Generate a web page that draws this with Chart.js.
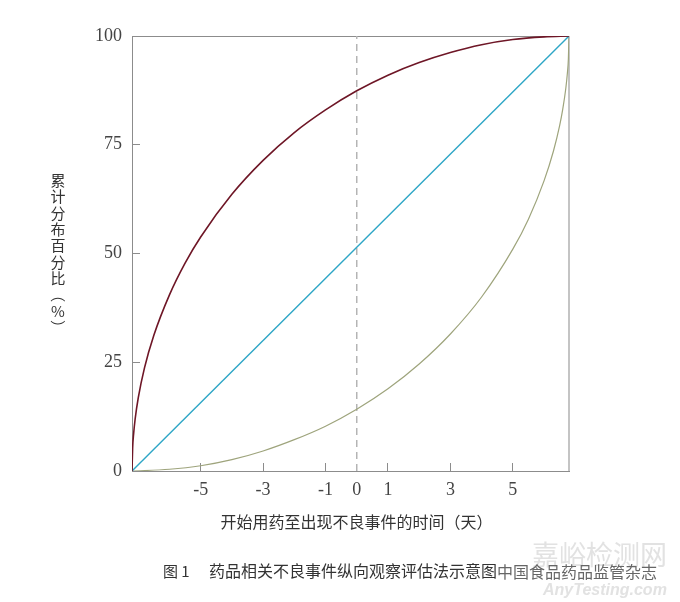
<!DOCTYPE html>
<html>
<head>
<meta charset="utf-8">
<script src="https://cdn.jsdelivr.net/npm/chart.js@4"></script>
<style>
  html, body { margin: 0; padding: 0; background: #ffffff; }
  canvas { display: block; }
</style>
</head>
<body>
<canvas id="c" width="680" height="602"></canvas>
<script>
// ---- data ----
const xTickValues = [-5, -3, -1, 0, 1, 3, 5];
const yTickValues = [0, 25, 50, 75, 100];

// early-onset curve (dark red)
const redX = [-7.2, -7.18, -7.15, -7.1, -7.0, -6.8, -6.5, -6, -5.5, -5, -4, -3, -2, -1, 0, 1, 2, 3, 4, 5, 6, 6.8];
const redY = [0, 5.3, 8.4, 11.9, 16.8, 23.7, 31.2, 40.5, 47.8, 53.8, 63.6, 71.4, 77.8, 83.0, 87.4, 91.0, 93.9, 96.2, 98.0, 99.2, 99.8, 100];

// uniform curve (cyan)
const cyanX = [-7.2, 6.8];
const cyanY = [0, 100];

// late-onset curve (olive green)
const greenX = [-7.2, -6, -5, -4, -3, -2, -1, 0, 1, 2, 3, 4, 5, 5.5, 6, 6.3, 6.5, 6.6, 6.7, 6.75, 6.78, 6.8];
const greenY = [0, 0.4, 1.2, 2.6, 4.6, 7.2, 10.3, 14.2, 18.9, 24.6, 31.5, 40.0, 51.0, 57.9, 66.7, 73.5, 79.4, 83.2, 88.1, 91.6, 94.7, 100];

// dashed marker at day 0
const markerX = [0, 0];
const markerY = [0, 100];

const xMin = -7.2, xMax = 6.8;

const yTitle = "累计分布百分比（%）";
const xTitle = "开始用药至出现不良事件的时间（天）";
const captionNo = "图 1";
const captionText = "药品相关不良事件纵向观察评估法示意图";
const sourceText = "中国食品药品监管杂志";
const watermarkCn = "嘉峪检测网";
const watermarkEn = "AnyTesting.com";

// ---- helpers ----
const pts = (xs, ys) => xs.map((x, i) => ({ x: x, y: ys[i] }));
const CJK = '"Noto Sans CJK SC", "Noto Sans", sans-serif';
const SERIF = '"Liberation Serif", "DejaVu Serif", serif';
const AXIS = '#8c8c8c';

const frameAndTitles = {
  id: 'frameAndTitles',
  beforeDatasetsDraw(chart) {
    const { ctx, chartArea: a } = chart;
    ctx.save();
    ctx.lineWidth = 1;
    ctx.strokeStyle = AXIS;
    ctx.beginPath();
    ctx.moveTo(a.left, a.top + 0.5);
    ctx.lineTo(a.right, a.top + 0.5);
    ctx.stroke();
    ctx.strokeStyle = '#c4c4c4';
    ctx.lineWidth = 2;
    ctx.beginPath();
    ctx.moveTo(a.right, a.top);
    ctx.lineTo(a.right, a.bottom);
    ctx.stroke();
    ctx.restore();
  },
  afterDraw(chart) {
    const ctx = chart.ctx;
    const a = chart.chartArea;
    ctx.save();
    // vertical y-axis title, characters stacked (brackets turned for vertical writing)
    ctx.fillStyle = '#333';
    ctx.font = '15px ' + CJK;
    ctx.textAlign = 'center';
    ctx.textBaseline = 'middle';
    const chars = Array.from(yTitle);
    chars.forEach((ch, i) => {
      const y = 180 + i * 16.4;
      if (ch === '（' || ch === '）') {
        ctx.save();
        ctx.translate(58, y);
        ctx.rotate(Math.PI / 2);
        ctx.fillText(ch, 0, 0);
        ctx.restore();
      } else {
        ctx.fillText(ch, 58, y);
      }
    });

    // x-axis title
    ctx.font = '16px ' + CJK;
    ctx.fillText(xTitle, (a.left + a.right) / 2 + 6, 522);

    // watermark (light)
    ctx.textAlign = 'left';
    ctx.fillStyle = '#e2e2e2';
    ctx.font = '27px ' + CJK;
    ctx.fillText(watermarkCn, 532, 555);
    ctx.font = 'italic bold 16px "Liberation Sans", sans-serif';
    ctx.fillText(watermarkEn, 543, 591);

    // caption
    ctx.fillStyle = '#333';
    ctx.font = '15px ' + CJK;
    ctx.fillText(captionNo, 163, 571);
    ctx.font = '16px ' + CJK;
    ctx.fillText(captionText, 209, 571);
    ctx.fillStyle = '#666';
    ctx.font = '16px ' + CJK;
    ctx.fillText(sourceText, 497, 572);
    ctx.restore();
  }
};

new Chart(document.getElementById('c'), {
  type: 'line',
  data: {
    datasets: [
      { data: pts(redX, redY), borderColor: '#6e1626', borderWidth: 1.6, cubicInterpolationMode: 'monotone' },
      { data: pts(cyanX, cyanY), borderColor: '#2ea6c6', borderWidth: 1.4 },
      { data: pts(greenX, greenY), borderColor: '#9ea47c', borderWidth: 1.2, cubicInterpolationMode: 'monotone' },
      { data: pts(markerX, markerY), borderColor: '#b4b4b4', borderWidth: 1.5, borderDash: [7, 5] }
    ]
  },
  options: {
    responsive: false,
    animation: false,
    devicePixelRatio: 1,
    layout: { padding: { left: 0, right: 111, top: 36, bottom: 56 } },
    elements: { point: { radius: 0, hoverRadius: 0 }, line: { fill: false } },
    plugins: { legend: { display: false }, tooltip: { enabled: false }, title: { display: false } },
    scales: {
      x: {
        type: 'linear',
        min: xMin,
        max: xMax,
        afterBuildTicks: s => { s.ticks = xTickValues.map(v => ({ value: v })); },
        afterFit: s => { s.height = 75; },
        ticks: {
          autoSkip: false,
          maxRotation: 0,
          padding: 16,
          color: '#444',
          font: { family: SERIF, size: 18 },
          callback: v => String(v)
        },
        grid: {
          drawOnChartArea: false,
          drawTicks: true,
          tickLength: -8,
          color: AXIS,
          tickColor: c => (c.tick && c.tick.value === 0) ? 'rgba(0,0,0,0)' : AXIS,
          tickWidth: 1
        },
        border: { display: true, color: AXIS, width: 1 },
        title: { display: false }
      },
      y: {
        type: 'linear',
        min: 0,
        max: 100,
        afterBuildTicks: s => { s.ticks = yTickValues.map(v => ({ value: v })); },
        afterFit: s => { s.width = 132; },
        ticks: {
          padding: 18,
          color: '#444',
          font: { family: SERIF, size: 18 },
          callback: v => String(v)
        },
        grid: {
          drawOnChartArea: false,
          drawTicks: true,
          tickLength: -8,
          color: AXIS,
          tickWidth: 1
        },
        border: { display: true, color: AXIS, width: 1 }
      }
    }
  },
  plugins: [frameAndTitles]
});
</script>
</body>
</html>
